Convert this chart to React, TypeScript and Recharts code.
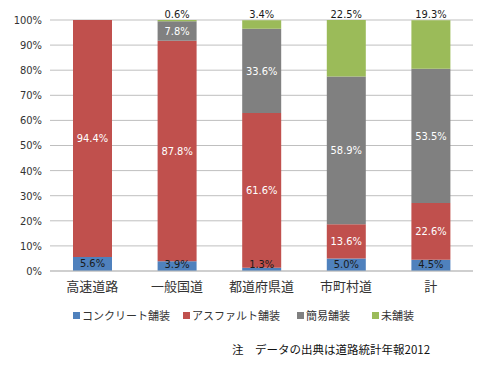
import { BarChart, Bar, XAxis, YAxis, CartesianGrid, LabelList } from "recharts";

const categories = ["高速道路", "一般国道", "都道府県道", "市町村道", "計"];
const concrete = [5.6, 3.9, 1.3, 5.0, 4.5];
const asphalt = [94.4, 87.8, 61.6, 13.6, 22.6];
const simple = [0, 7.8, 33.6, 58.9, 53.5];
const unpaved = [0, 0.6, 3.4, 22.5, 19.3];
const yTicks = [0, 10, 20, 30, 40, 50, 60, 70, 80, 90, 100];

const SERIES = [
  { key: "concrete", name: "コンクリート舗装", color: "#4F81BD", text: "#1a1a1a" },
  { key: "asphalt", name: "アスファルト舗装", color: "#C0504D", text: "#ffffff" },
  { key: "simple", name: "簡易舗装", color: "#808080", text: "#ffffff" },
  { key: "unpaved", name: "未舗装", color: "#9BBB59", text: "#1a1a1a" },
];

// legend item x offsets (layout only)
const LEGEND_LEFT = [73, 183, 297, 372];

const data = categories.map((name, i) => ({
  name,
  concrete: concrete[i],
  asphalt: asphalt[i],
  simple: simple[i],
  unpaved: unpaved[i],
}));

const NUM_FONT = "'DejaVu Sans Condensed', sans-serif";
const JP_FONT = "'Noto Sans CJK JP', sans-serif";

const fmt = (v: any) => (Number(v) > 0 ? `${Number(v).toFixed(1)}%` : "");

// small segments near the axis: keep the label just above the baseline
const BottomLabel = (props: any) => {
  const { x, y, width, height, value } = props;
  if (!(Number(value) > 0)) return null;
  const cy = Math.min(y + height / 2, y + height - 7);
  return (
    <text
      x={x + width / 2}
      y={cy}
      textAnchor="middle"
      dominantBaseline="central"
      fill="#1a1a1a"
      style={{ fontSize: 11, fontFamily: NUM_FONT }}
    >
      {fmt(value)}
    </text>
  );
};

const App = () => {
  return (
    <div style={{ position: "absolute", left: 0, top: 0, width: 480, height: 371, background: "#fff" }}>
      <BarChart
        width={480}
        height={300}
        data={data}
        margin={{ top: 20, right: 7, left: 0, bottom: 0 }}
      >
        <CartesianGrid vertical={false} stroke="#bfbfbf" />
        <XAxis
          dataKey="name"
          axisLine={{ stroke: "#bfbfbf" }}
          tickLine={false}
          height={29}
          tick={{ fill: "#333", fontSize: 13, fontFamily: JP_FONT }}
          dy={3}
        />
        <YAxis
          domain={[0, 100]}
          ticks={yTicks}
          allowDataOverflow
          width={50}
          axisLine={false}
          tickLine={false}
          tickFormatter={(v) => `${v}%`}
          tick={{ fill: "#333", fontSize: 11, fontFamily: NUM_FONT }}
        />
        {SERIES.map((s) => (
          <Bar
            key={s.key}
            dataKey={s.key}
            stackId="a"
            fill={s.color}
            barSize={39}
            isAnimationActive={false}
          >
            {s.key === "concrete" ? (
              <LabelList dataKey={s.key} content={<BottomLabel />} />
            ) : (
              <LabelList
                dataKey={s.key}
                position={s.key === "unpaved" ? "top" : "center"}
                offset={2}
                formatter={fmt}
                fill={s.text}
                style={{ fontSize: 11, fontFamily: NUM_FONT }}
              />
            )}
          </Bar>
        ))}
      </BarChart>
      {SERIES.map((s, i) => (
        <div
          key={s.key}
          style={{
            position: "absolute",
            left: LEGEND_LEFT[i],
            top: 307,
            display: "flex",
            alignItems: "center",
            fontFamily: JP_FONT,
            fontSize: 11,
            color: "#333",
            lineHeight: "16px",
          }}
        >
          <span style={{ width: 7, height: 7, background: s.color, marginRight: 2 }} />
          <span>{s.name}</span>
        </div>
      ))}
      <div
        style={{
          position: "absolute",
          left: 232,
          top: 341,
          fontFamily: JP_FONT,
          fontSize: 11.5,
          color: "#111",
          lineHeight: "16px",
        }}
      >
        注　データの出典は道路統計年報2012
      </div>
    </div>
  );
};

export default App;
